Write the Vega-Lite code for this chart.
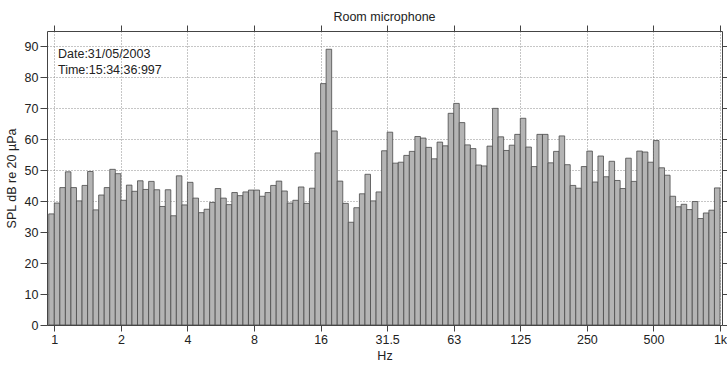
{
  "$schema": "https://vega.github.io/schema/vega-lite/v6.json",
  "width": 675,
  "height": 294,
  "autosize": {"type": "none"},
  "padding": {"left": 47, "top": 31, "right": 5, "bottom": 42},
  "background": "white",
  "config": {
    "font": "Liberation Sans",
    "view": {"stroke": null},
    "axis": {
      "domainColor": "#444444",
      "tickColor": "#444444",
      "gridColor": "#8c8c8c",
      "gridDash": [1, 2],
      "gridWidth": 1,
      "labelColor": "#222222",
      "titleColor": "#222222",
      "labelFontSize": 12.5,
      "titleFontSize": 12.5,
      "titleFontWeight": "normal",
      "labelFont": "Liberation Sans",
      "titleFont": "Liberation Sans"
    }
  },
  "title": {
    "text": "Room microphone",
    "fontSize": 12.5,
    "fontWeight": "normal",
    "color": "#222222",
    "font": "Liberation Sans",
    "anchor": "middle",
    "offset": 1
  },
  "layer": [
    {
      "data": {
        "values": [
          {"hz": 1, "spl": 35.9}, {"hz": 1.0595, "spl": 39.4}, {"hz": 1.1225, "spl": 44.4}, {"hz": 1.1892, "spl": 49.5},
          {"hz": 1.2599, "spl": 44.4}, {"hz": 1.3348, "spl": 40.1}, {"hz": 1.4142, "spl": 45.1}, {"hz": 1.4983, "spl": 49.6},
          {"hz": 1.5874, "spl": 37.2}, {"hz": 1.6818, "spl": 42.0}, {"hz": 1.7818, "spl": 44.4}, {"hz": 1.8877, "spl": 50.3},
          {"hz": 2, "spl": 48.9}, {"hz": 2.1189, "spl": 40.3}, {"hz": 2.2449, "spl": 45.2}, {"hz": 2.3784, "spl": 43.2},
          {"hz": 2.5198, "spl": 46.6}, {"hz": 2.6697, "spl": 43.8}, {"hz": 2.8284, "spl": 46.4}, {"hz": 2.9966, "spl": 43.7},
          {"hz": 3.1748, "spl": 38.3}, {"hz": 3.3636, "spl": 43.7}, {"hz": 3.5636, "spl": 35.3}, {"hz": 3.7755, "spl": 48.2},
          {"hz": 4, "spl": 38.8}, {"hz": 4.2379, "spl": 46.1}, {"hz": 4.4898, "spl": 41.0}, {"hz": 4.7568, "spl": 36.3},
          {"hz": 5.0397, "spl": 37.4}, {"hz": 5.3394, "spl": 39.6}, {"hz": 5.6569, "spl": 44.1}, {"hz": 5.9932, "spl": 41.0},
          {"hz": 6.3496, "spl": 38.9}, {"hz": 6.7272, "spl": 42.8}, {"hz": 7.1272, "spl": 41.8}, {"hz": 7.551, "spl": 43.0},
          {"hz": 8, "spl": 43.6}, {"hz": 8.4757, "spl": 43.6}, {"hz": 8.9797, "spl": 41.6}, {"hz": 9.5137, "spl": 42.8},
          {"hz": 10.079, "spl": 45.1}, {"hz": 10.679, "spl": 46.5}, {"hz": 11.314, "spl": 43.3}, {"hz": 11.986, "spl": 39.4},
          {"hz": 12.699, "spl": 40.3}, {"hz": 13.454, "spl": 44.6}, {"hz": 14.254, "spl": 39.3}, {"hz": 15.102, "spl": 44.2},
          {"hz": 16, "spl": 55.6}, {"hz": 16.951, "spl": 78.0}, {"hz": 17.959, "spl": 89.1}, {"hz": 19.027, "spl": 62.7},
          {"hz": 20.159, "spl": 46.5}, {"hz": 21.357, "spl": 39.3}, {"hz": 22.627, "spl": 33.2}, {"hz": 23.973, "spl": 37.9},
          {"hz": 25.398, "spl": 42.4}, {"hz": 26.909, "spl": 48.7}, {"hz": 28.509, "spl": 40.1}, {"hz": 30.204, "spl": 43.0},
          {"hz": 32, "spl": 56.3}, {"hz": 33.903, "spl": 62.3}, {"hz": 35.919, "spl": 52.3}, {"hz": 38.055, "spl": 52.6},
          {"hz": 40.317, "spl": 54.8}, {"hz": 42.715, "spl": 56.1}, {"hz": 45.255, "spl": 60.9}, {"hz": 47.946, "spl": 60.4},
          {"hz": 50.797, "spl": 57.4}, {"hz": 53.817, "spl": 53.7}, {"hz": 57.018, "spl": 59.1}, {"hz": 60.408, "spl": 57.9},
          {"hz": 64, "spl": 68.4}, {"hz": 67.806, "spl": 71.6}, {"hz": 71.838, "spl": 65.4}, {"hz": 76.11, "spl": 58.2},
          {"hz": 80.635, "spl": 57.0}, {"hz": 85.43, "spl": 51.7}, {"hz": 90.51, "spl": 51.4}, {"hz": 95.892, "spl": 57.8},
          {"hz": 101.59, "spl": 70.0}, {"hz": 107.63, "spl": 60.8}, {"hz": 114.04, "spl": 56.4}, {"hz": 120.82, "spl": 58.1},
          {"hz": 128, "spl": 61.6}, {"hz": 135.61, "spl": 66.8}, {"hz": 143.68, "spl": 57.5}, {"hz": 152.22, "spl": 51.2},
          {"hz": 161.27, "spl": 61.6}, {"hz": 170.86, "spl": 61.6}, {"hz": 181.02, "spl": 52.4}, {"hz": 191.78, "spl": 56.1},
          {"hz": 203.19, "spl": 61.1}, {"hz": 215.27, "spl": 51.8}, {"hz": 228.07, "spl": 45.1}, {"hz": 241.63, "spl": 44.2},
          {"hz": 256, "spl": 51.2}, {"hz": 271.22, "spl": 56.2}, {"hz": 287.35, "spl": 46.2}, {"hz": 304.44, "spl": 54.6},
          {"hz": 322.54, "spl": 47.9}, {"hz": 341.72, "spl": 52.9}, {"hz": 362.04, "spl": 46.7}, {"hz": 383.57, "spl": 44.1},
          {"hz": 406.37, "spl": 53.9}, {"hz": 430.54, "spl": 46.4}, {"hz": 456.14, "spl": 56.2}, {"hz": 483.27, "spl": 55.9},
          {"hz": 512, "spl": 52.6}, {"hz": 542.45, "spl": 59.6}, {"hz": 574.7, "spl": 50.8}, {"hz": 608.87, "spl": 48.4},
          {"hz": 645.08, "spl": 41.6}, {"hz": 683.44, "spl": 38.2}, {"hz": 724.08, "spl": 39.0}, {"hz": 767.13, "spl": 37.3},
          {"hz": 812.75, "spl": 39.9}, {"hz": 861.08, "spl": 34.4}, {"hz": 912.28, "spl": 36.2}, {"hz": 966.53, "spl": 37.1},
          {"hz": 1024, "spl": 44.3}
        ]
      },
      "mark": {
        "type": "bar",
        "orient": "vertical",
        "size": 5.547,
        "xOffset": -2.774,
        "fill": "#b4b4b4",
        "stroke": "#4a4a4a",
        "strokeWidth": 0.8
      },
      "encoding": {
        "x": {
          "field": "hz",
          "type": "quantitative",
          "scale": {"type": "log", "domain": [0.9268, 1045.6], "nice": false, "padding": 0},
          "axis": {
            "orient": "bottom",
            "title": "Hz",
            "values": [1, 2, 4, 8, 16, 32, 64, 128, 256, 512, 1024],
            "labelExpr": "datum.value == 1024 ? '1k' : datum.value == 512 ? '500' : datum.value == 256 ? '250' : datum.value == 128 ? '125' : datum.value == 64 ? '63' : datum.value == 32 ? '31.5' : datum.value == 16 ? '16' : datum.value == 8 ? '8' : datum.value == 4 ? '4' : datum.value == 2 ? '2' : '1'",
            "grid": true,
            "tickSize": 6,
            "labelPadding": 2,
            "titlePadding": 4,
            "labelFlush": false,
            "labelOverlap": false
          }
        },
        "y": {
          "field": "spl",
          "type": "quantitative",
          "scale": {"domain": [0, 95], "nice": false, "zero": true, "padding": 0},
          "axis": {
            "orient": "left",
            "title": "SPL dB re 20 µPa",
            "values": [0, 10, 20, 30, 40, 50, 60, 70, 80, 90],
            "grid": true,
            "tickSize": 7,
            "labelPadding": 2,
            "titlePadding": 6
          }
        }
      }
    },
    {
      "data": {
        "values": [
          {"hz": 1.039, "spl": 87.5, "label": "Date:31/05/2003"},
          {"hz": 1.039, "spl": 82.3, "label": "Time:15:34:36:997"}
        ]
      },
      "mark": {
        "type": "text",
        "align": "left",
        "baseline": "middle",
        "fontSize": 12.5,
        "font": "Liberation Sans",
        "color": "#222222"
      },
      "encoding": {
        "x": {
          "field": "hz",
          "type": "quantitative",
          "scale": {"type": "log", "domain": [0.9268, 1045.6], "nice": false, "padding": 0},
          "axis": {
            "orient": "top",
            "title": null,
            "values": [1, 2, 4, 8, 16, 32, 64, 128, 256, 512, 1024],
            "labels": false,
            "grid": false,
            "tickSize": 6
          }
        },
        "y": {
          "field": "spl",
          "type": "quantitative",
          "scale": {"domain": [0, 95], "nice": false, "zero": true, "padding": 0},
          "axis": {
            "orient": "right",
            "title": null,
            "values": [0, 10, 20, 30, 40, 50, 60, 70, 80, 90],
            "labels": false,
            "grid": false,
            "tickSize": 5
          }
        },
        "text": {"field": "label"}
      }
    }
  ],
  "resolve": {"axis": {"x": "independent", "y": "independent"}}
}
